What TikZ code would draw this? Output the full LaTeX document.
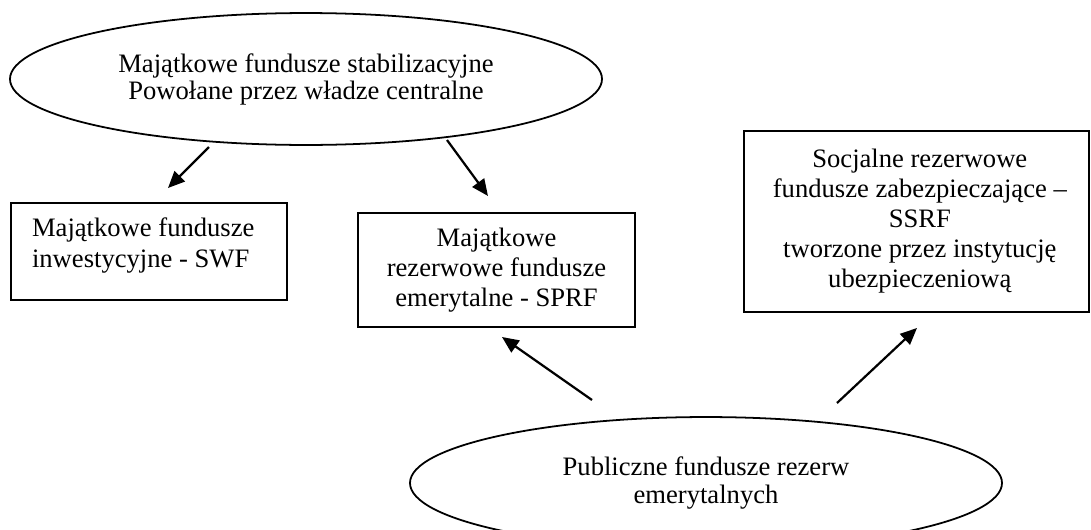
\documentclass[tikz,border=0pt]{standalone}
\usepackage{fontspec}
\setmainfont{Liberation Serif}
\usetikzlibrary{arrows.meta,shapes,positioning}
\tikzstyle{arrow} = [line width=1pt,-{Triangle[length=7.5pt,width=6.5pt]}]
\tikzstyle{fundbox} = [draw, line width=0.8pt, align=center, inner sep=0pt]
\tikzstyle{fundellipse} = [draw, ellipse, line width=0.8pt, align=center, inner sep=0pt, minimum width=267pt, minimum height=59.5pt, font=\fontsize{12pt}{12.2pt}\selectfont]

\begin{document}
\begin{tikzpicture}[x=0.451pt, y=-0.451pt, font=\fontsize{12pt}{13.6pt}\selectfont]
    \useasboundingbox (0,0) rectangle (1091,530);

    % Ellipses
    \node[fundellipse] (stab) at (306,79) {Majątkowe fundusze stabilizacyjne\\Powołane przez władze centralne};
    \node[fundellipse] (pub) at (706,483) {Publiczne fundusze rezerw\\emerytalnych};

    % Boxes
    \node[fundbox, inner xsep=9.5pt, minimum width=124.5pt, minimum height=43.7pt] (swf) at (149,251.5)
        {\raisebox{2.7pt}[\height][\depth]{\parbox{105.5pt}{\raggedright Majątkowe fundusze\\inwestycyjne - SWF}}};
    \node[fundbox, minimum width=124.9pt, minimum height=51.4pt] (sprf) at (496.5,270) {Majątkowe\\rezerwowe fundusze\\emerytalne - SPRF};
    \node[fundbox, minimum width=155.6pt, minimum height=81.6pt] (ssrf) at (916.5,221.5)
        {\hspace*{3pt}\begin{tabular}{@{}c@{}}Socjalne rezerwowe\\fundusze zabezpieczające –\\SSRF\\tworzone przez instytucję\\ubezpieczeniową\end{tabular}};

    % Arrow ends
    \coordinate (stab-l) at (209,147);
    \coordinate (stab-r) at (447,140);
    \coordinate (pub-l) at (592,400);
    \coordinate (pub-r) at (837,403);
    \coordinate (swf-in) at (168,188);
    \coordinate (sprf-top) at (488,196);
    \coordinate (sprf-bot) at (502,337);
    \coordinate (ssrf-in) at (917,328);

    % Arrows
    \foreach \from/\to in {stab-l/swf-in, stab-r/sprf-top, pub-l/sprf-bot, pub-r/ssrf-in}
        \draw[arrow] (\from) -- (\to);
\end{tikzpicture}
\end{document}
